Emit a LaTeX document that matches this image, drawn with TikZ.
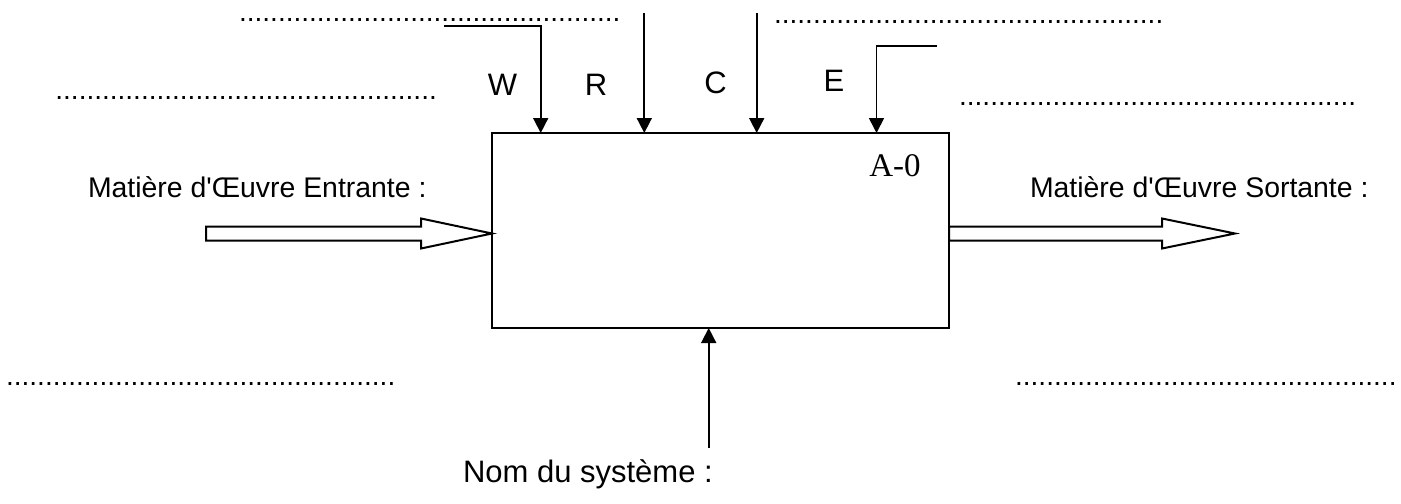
\documentclass[tikz,border=0pt]{standalone}
\usepackage{fontspec}
\newfontfamily\arialfont{Liberation Sans}
\newfontfamily\timesfont{Liberation Serif}
\usetikzlibrary{arrows.meta}
\newcommand\dotrow[1]{\foreach\k in {1,...,#1}{.}}

\begin{document}
\begin{tikzpicture}[x=0.5pt, y=-0.5pt,
  every node/.style={inner sep=0pt, outer sep=0pt, font=\arialfont\fontsize{14.2pt}{16pt}\selectfont},
  dots/.style={anchor=base west, font=\arialfont\fontsize{14pt}{16pt}\selectfont},
  big/.style={font=\arialfont\fontsize{15.5pt}{18pt}\selectfont},
  arr/.style={line width=0.85pt, -{Triangle[length=7.5pt,width=7.5pt]}},
  hollow/.style={draw, line width=1pt, fill=white}]
\useasboundingbox (0,0) rectangle (1401,503);
% box A-0
\node[draw, line width=1pt, minimum width=228.5pt, minimum height=97.5pt] (box) at (720.5,230.5) {};
\node[anchor=base, font=\timesfont\fontsize{16.5pt}{18pt}\selectfont] (a0) at (895,176.7) {A-0};
% dotted rows
\node[dots] (dtl) at (239.1,21.4) {\dotrow{49}};
\node[dots] (dtr) at (774.1,23.1) {\dotrow{50}};
\node[dots] (dml) at (55.4,99.7) {\dotrow{49}};
\node[dots] (dmr) at (959.1,105.4) {\dotrow{51}};
\node[dots] (dbl) at (6.1,385.7) {\dotrow{50}};
\node[dots] (dbr) at (1015.1,385.7) {\dotrow{49}};
% W R C E
\node[big, anchor=base] (w) at (502.5,95) {W};
\node[big, anchor=base] (r) at (596,95) {R};
\node[big, anchor=base] (c) at (715.5,93) {C};
\node[big, anchor=base] (e) at (834,91) {E};
% arrows into the top
\coordinate (win) at (444,25.7);
\coordinate (wbend) at (540.7,25.7);
\draw[arr] (win) -- (wbend) -- (wbend |- box.north);
\coordinate (rin) at (644.3,13);
\draw[arr] (rin) -- (rin |- box.north);
\coordinate (cin) at (756.7,13);
\draw[arr] (cin) -- (cin |- box.north);
\coordinate (ein) at (936.7,46);
\coordinate (ebend) at (876.5,46);
\draw[arr] (ein) -- (ebend) -- (ebend |- box.north);
% system
\coordinate (sysin) at (708.7,448);
\draw[arr] (sysin) -- (sysin |- box.south);
\node[big, anchor=base west] (sys) at (463,482.7) {Nom du système :};
% matter in / out
\node[anchor=base west] (matin) at (88,197.3) {Matière d'Œuvre Entrante :};
\node[anchor=base west] (matout) at (1030,197) {Matière d'Œuvre Sortante :};
\draw[hollow] ([yshift=-1.5pt]box.west) -- ++(-71,-15) -- ++(0,8) -- ++(-215,0) -- ++(0,14) -- ++(215,0) -- ++(0,8) -- cycle;
\draw[hollow] ([yshift=-1.5pt]box.east) ++(0,-7) -- ++(213,0) -- ++(0,-8) -- ++(73,15) -- ++(-73,15) -- ++(0,-8) -- ++(-213,0) -- cycle;
\end{tikzpicture}
\end{document}
